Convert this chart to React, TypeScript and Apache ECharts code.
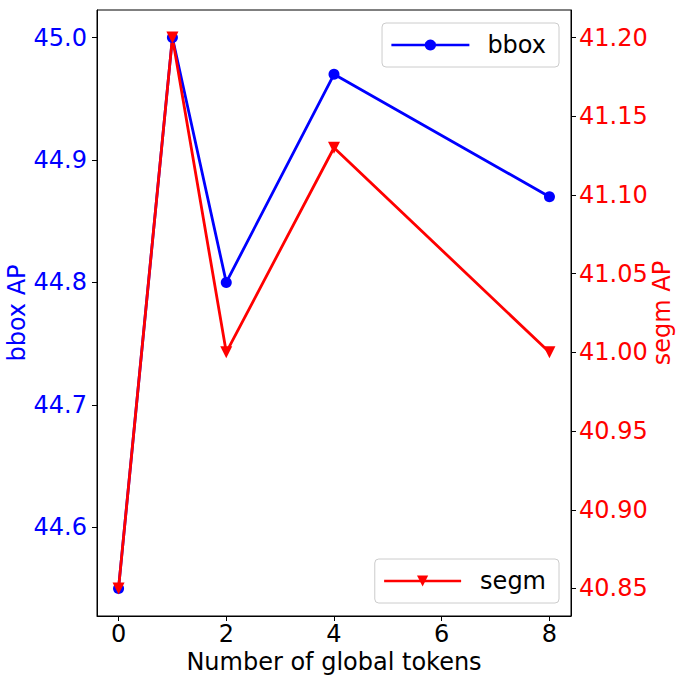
import React, { useEffect, useRef } from "react";
import * as echarts from "echarts";

const xValues = [0, 1, 2, 4, 8];
const bboxAP = [44.55, 45.0, 44.8, 44.97, 44.87];
const segmAP = [40.85, 41.2, 41.0, 41.13, 41.0];
const xTicks = [0, 2, 4, 6, 8];
const bboxTicks = [44.6, 44.7, 44.8, 44.9, 45.0];
const segmTicks = [40.85, 40.9, 40.95, 41.0, 41.05, 41.1, 41.15, 41.2];

const FONT = "DejaVu Sans";
const FS = 24;

function pad(vals: number[]) {
  const lo = Math.min(...vals);
  const hi = Math.max(...vals);
  const m = (hi - lo) * 0.05;
  return [lo - m, hi + m];
}

export default function App() {
  const ref = useRef<HTMLDivElement>(null);
  useEffect(() => {
    if (!ref.current) return;
    const chart = echarts.init(ref.current, null, { renderer: "svg" });
    const [xMin, xMax] = pad(xValues);
    const [bMin, bMax] = pad(bboxAP);
    const [sMin, sMax] = pad(segmAP);
    const legendCommon = {
      right: 123,
      padding: [10, 13, 10, 8],
      itemHeight: 14,
      backgroundColor: "rgba(255,255,255,0.8)",
      borderColor: "#cccccc",
      borderWidth: 1,
      borderRadius: 4,
      lineStyle: { width: 2.7 },
    };
    chart.setOption({
      animation: false,
      backgroundColor: "#ffffff",
      grid: {
        left: 97,
        right: 111,
        top: 10,
        bottom: 66,
        show: true,
        borderColor: "#000",
        borderWidth: 1,
        backgroundColor: "transparent",
        outerBoundsMode: "none",
        containLabel: false,
      },
      legend: [
        {
          ...legendCommon,
          data: ["bbox"],
          top: 23,
          itemWidth: 78,
          textStyle: {
            fontFamily: FONT,
            fontSize: FS,
            lineHeight: 24,
            color: "#000",
            padding: [0, 0, 0, 13],
          },
        },
        {
          ...legendCommon,
          data: ["segm"],
          top: 559,
          itemWidth: 77,
          textStyle: {
            fontFamily: FONT,
            fontSize: FS,
            lineHeight: 24,
            color: "#000",
            padding: [0, 0, 0, 14],
          },
        },
      ],
      xAxis: {
        type: "value",
        min: xMin,
        max: xMax,
        name: "Number of global tokens",
        nameLocation: "middle",
        nameGap: 34,
        nameMoveOverlap: false,
        nameTextStyle: { fontFamily: FONT, fontSize: FS, color: "#000" },
        axisLine: { show: true, onZero: false, lineStyle: { color: "#000", width: 1 } },
        axisTick: {
          show: true,
          length: 5,
          inside: false,
          customValues: xTicks,
          lineStyle: { color: "#000" },
        },
        axisLabel: {
          customValues: xTicks,
          fontFamily: FONT,
          fontSize: FS,
          color: "#000",
          margin: 6,
        },
        splitLine: { show: false },
      },
      yAxis: [
        {
          type: "value",
          position: "left",
          min: bMin,
          max: bMax,
          name: "bbox AP",
          nameLocation: "middle",
          nameGap: 68,
          nameMoveOverlap: false,
          nameTextStyle: { fontFamily: FONT, fontSize: FS, color: "#0000ff" },
          axisLine: { show: true, onZero: false, lineStyle: { color: "#000", width: 1 } },
          axisTick: {
            show: true,
            length: 5,
            inside: false,
            customValues: bboxTicks,
            lineStyle: { color: "#000" },
          },
          axisLabel: {
            customValues: bboxTicks,
            formatter: (v: number) => v.toFixed(1),
            fontFamily: FONT,
            fontSize: FS,
            color: "#0000ff",
            margin: 10,
          },
          splitLine: { show: false },
        },
        {
          type: "value",
          position: "right",
          min: sMin,
          max: sMax,
          name: "segm AP",
          nameLocation: "middle",
          nameGap: 79,
          nameMoveOverlap: false,
          nameTextStyle: { fontFamily: FONT, fontSize: FS, color: "#ff0000" },
          axisLine: { show: true, onZero: false, lineStyle: { color: "#000", width: 1 } },
          axisTick: {
            show: true,
            length: 5,
            inside: false,
            customValues: segmTicks,
            lineStyle: { color: "#000" },
          },
          axisLabel: {
            customValues: segmTicks,
            formatter: (v: number) => v.toFixed(2),
            fontFamily: FONT,
            fontSize: FS,
            color: "#ff0000",
            margin: 8,
          },
          splitLine: { show: false },
        },
      ],
      series: [
        {
          name: "bbox",
          type: "line",
          yAxisIndex: 0,
          data: xValues.map((x, i) => [x, bboxAP[i]]),
          symbol: "circle",
          symbolSize: 11,
          showAllSymbol: true,
          color: "#0000ff",
          lineStyle: { color: "#0000ff", width: 2.8 },
          itemStyle: { color: "#0000ff" },
        },
        {
          name: "segm",
          type: "line",
          yAxisIndex: 1,
          data: xValues.map((x, i) => [x, segmAP[i]]),
          symbol: "triangle",
          symbolRotate: 180,
          symbolSize: 12,
          showAllSymbol: true,
          color: "#ff0000",
          lineStyle: { color: "#ff0000", width: 2.8 },
          itemStyle: { color: "#ff0000" },
        },
      ],
    });
    return () => chart.dispose();
  }, []);
  return (
    <div
      ref={ref}
      style={{ position: "fixed", left: 0, top: 0, width: 682, height: 682 }}
    />
  );
}
